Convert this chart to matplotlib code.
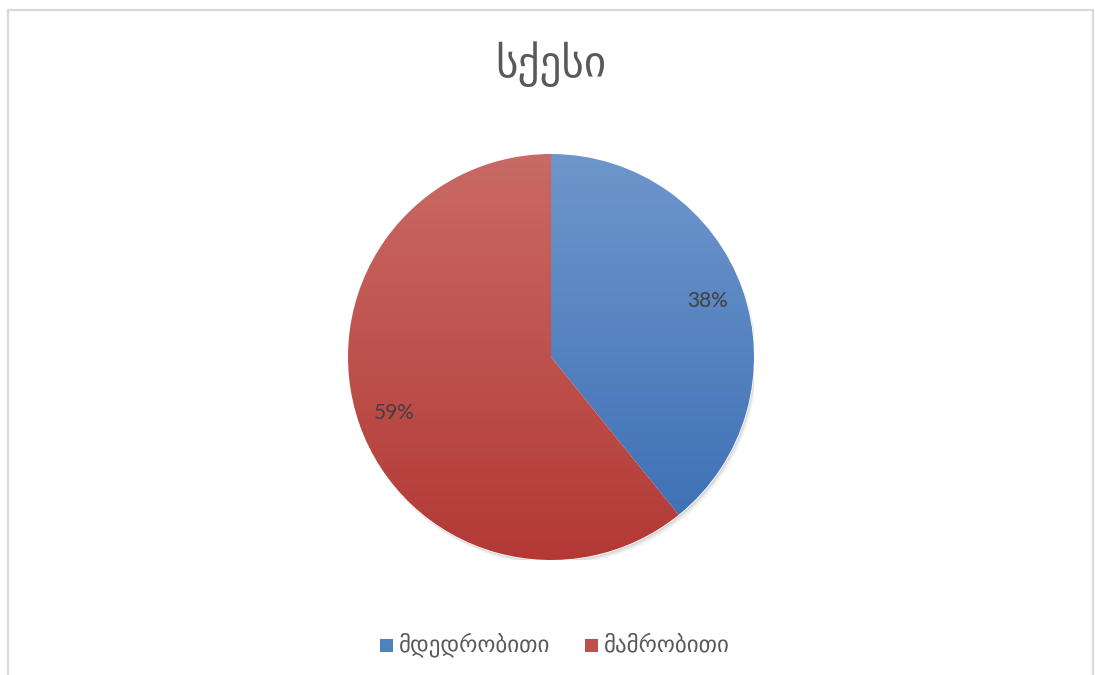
import numpy as np
import matplotlib
matplotlib.use("Agg")
import matplotlib.pyplot as plt
from matplotlib.colors import LinearSegmentedColormap
from matplotlib.patches import Rectangle, Circle

# მონაცემები
title = "სქესი"
labels = ["მდედრობითი", "მამრობითი"]
values = [38, 59]
top_colors = ["#6E96CB", "#C96A65"]
bottom_colors = ["#3A6DB4", "#B33935"]

W, H = 1095, 675
fig = plt.figure(figsize=(W / 100, H / 100), dpi=100)
fig.patch.set_facecolor("white")

# ჩარჩო
fig.patches.append(Rectangle((8 / W, -0.05), (1093 - 8) / W, 1.05 - 10 / H,
                             transform=fig.transFigure, fill=False,
                             edgecolor="#D9D9D9", linewidth=1.6))

cx, cy, r = 551, 357, 203
ax = fig.add_axes([(cx - r) / W, 1 - (cy + r) / H, 2 * r / W, 2 * r / H])

# ჩრდილი
for k, a in [(0.025, 0.08), (0.017, 0.12), (0.01, 0.16)]:
    ax.add_patch(Circle((k * 0.6, -k), 1.0, color="#808080", alpha=a, zorder=0, lw=0))

wedges, texts, autotexts = ax.pie(
    values, colors=bottom_colors, startangle=90, counterclock=False,
    radius=1.0, center=(0, 0), autopct=lambda p: "",
    pctdistance=0.82, frame=True,
    wedgeprops=dict(linewidth=1.2, edgecolor="white"))

# გრადიენტი თითოეულ სექტორზე
grad = np.linspace(0, 1, 256).reshape(-1, 1)
for w, c0, c1 in zip(wedges, top_colors, bottom_colors):
    cmap = LinearSegmentedColormap.from_list("g", [c1, c0])
    im = ax.imshow(grad, cmap=cmap, extent=[-1, 1, -1, 1], origin="lower",
                   aspect="auto", zorder=2, interpolation="bicubic")
    im.set_clip_path(w)
ax.set_xlim(-1, 1)
ax.set_ylim(-1, 1)
ax.axis("off")

for w, at, v in zip(wedges, autotexts, values):
    x, y = at.get_position()
    ax.text(x, y, f"{v}%", ha="center", va="center", fontsize=15,
            family=["Lato", "DejaVu Sans"], color="#404040", zorder=5)

fig.text(551 / W, 1 - 64 / H, title, ha="center", va="center",
         fontsize=31, color="#595959", family="DejaVu Sans")

# ლეგენდა
leg_y = 1 - 645 / H
for x0, lab, col in [(380, labels[0], "#4F81BD"), (585, labels[1], "#C0504D")]:
    fig.patches.append(Rectangle((x0 / W, leg_y - 6.5 / H), 13 / W, 13 / H,
                                 transform=fig.transFigure, facecolor=col,
                                 edgecolor="none"))
    fig.text((x0 + 19) / W, leg_y, lab, ha="left", va="center",
             fontsize=16.5, color="#595959", family="DejaVu Sans")

fig.savefig("out.png", dpi=100, facecolor="white")
